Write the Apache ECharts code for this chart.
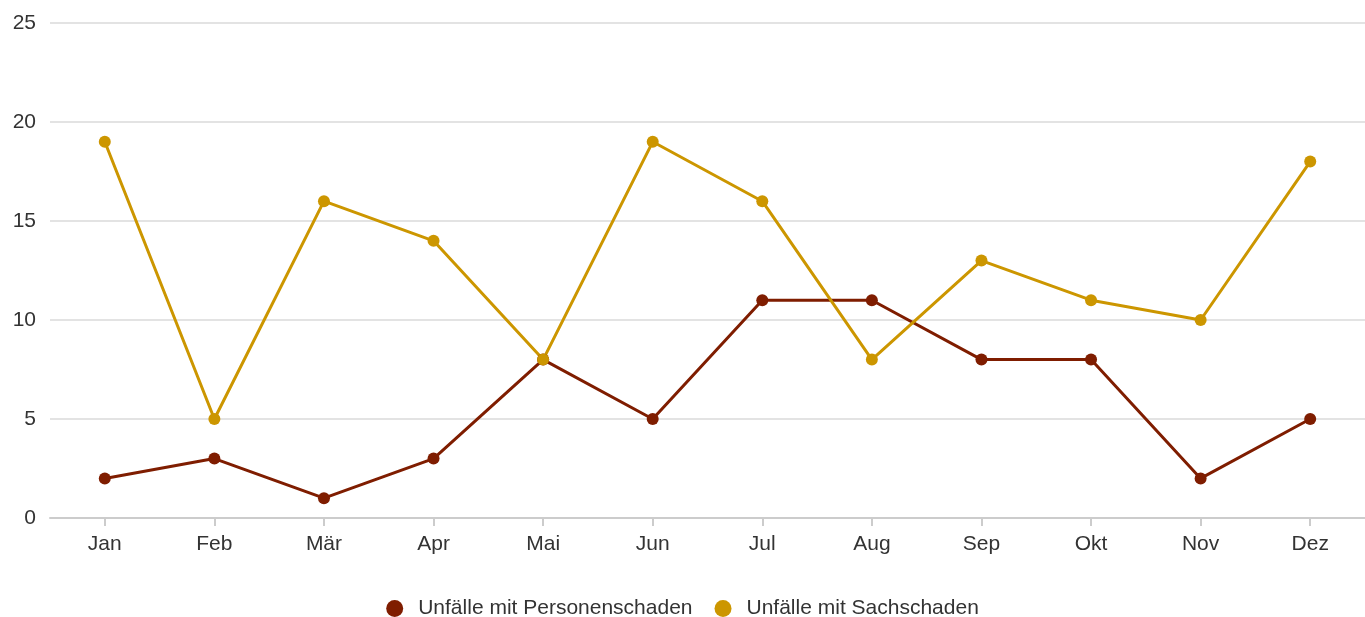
<!DOCTYPE html>
<html><head><meta charset="utf-8">
<script src="https://cdn.jsdelivr.net/npm/echarts@6/dist/echarts.min.js"></script>
<style>html,body{margin:0;padding:0;background:#fff}#c{width:1365px;height:617px}</style>
</head><body><div id="c"></div>
<script>
const categories = ['Jan','Feb','Mär','Apr','Mai','Jun','Jul','Aug','Sep','Okt','Nov','Dez'];
const personenschaden = [2,3,1,3,8,5,11,11,8,8,2,5];
const sachschaden = [19,5,16,14,8,19,16,8,13,11,10,18];
const seriesNames = ['Unfälle mit Personenschaden','Unfälle mit Sachschaden'];
const colors = ['#7f1d00','#cc9600'];

const chart = echarts.init(document.getElementById('c'));
const font = 'Arial, "Liberation Sans", sans-serif';
function mk(name, data, color){
  return {name, type:'line', data, symbol:'circle', symbolSize:12,
    lineStyle:{width:3,color}, itemStyle:{color}, emphasis:{disabled:true}};
}
chart.setOption({
  animation:false,
  color: colors,
  grid:{left:50,right:0,top:23,bottom:99,containLabel:false},
  legend:{top:598,left:'center',padding:0,icon:'circle',itemWidth:17,itemHeight:17,itemGap:22,
    textStyle:{fontSize:21,lineHeight:21,color:'#333',fontFamily:font,padding:[0,0,0,10]}},
  xAxis:{type:'category',data:categories,boundaryGap:true,
    axisLine:{lineStyle:{color:'#ccc',width:2}},
    axisTick:{show:true,alignWithLabel:true,length:8,lineStyle:{color:'#ccc',width:2}},
    axisLabel:{fontSize:21,color:'#333',fontFamily:font,margin:16}},
  yAxis:{type:'value',min:0,max:25,interval:5,
    axisLine:{show:false},axisTick:{show:false},
    splitLine:{lineStyle:{color:'#e3e3e3',width:2}},
    axisLabel:{fontSize:21,color:'#333',fontFamily:font,margin:14,padding:[2,0,0,0]}},
  series:[mk(seriesNames[0],personenschaden,colors[0]),mk(seriesNames[1],sachschaden,colors[1])]
});
</script></body></html>
